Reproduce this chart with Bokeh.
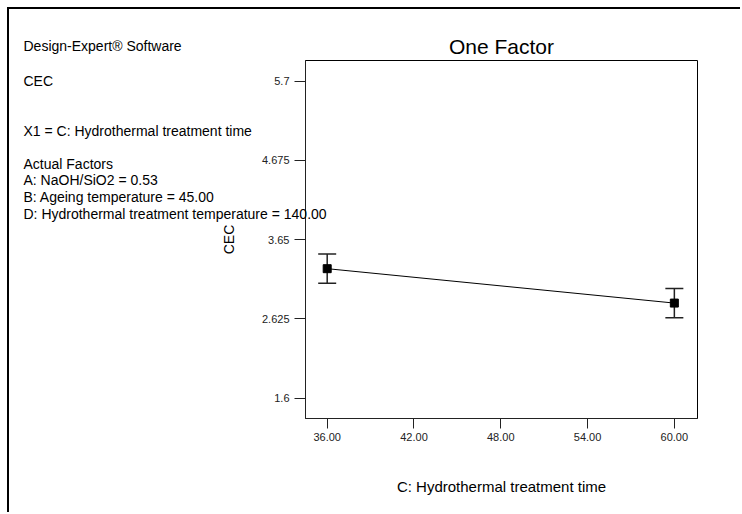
from bokeh.plotting import figure
from bokeh.models import ColumnDataSource, Whisker, TeeHead, FixedTicker, Div
from bokeh.core.properties import value
from bokeh.embed import file_html
from bokeh.resources import INLINE

# ---- data ----
time_h = [36.0, 60.0]
cec_mean = [3.275, 2.83]
cec_err = [0.19, 0.19]
x_ticks = [36, 42, 48, 54, 60]
x_tick_labels = ["36.00", "42.00", "48.00", "54.00", "60.00"]
y_ticks = [1.6, 2.625, 3.65, 4.675, 5.7]
y_tick_labels = ["1.6", "2.625", "3.65", "4.675", "5.7"]
info_lines = [
    "Design-Expert\u00ae Software",
    "CEC",
    "X1 = C: Hydrothermal treatment time",
    "Actual Factors",
    "A: NaOH/SiO2 = 0.53",
    "B: Ageing temperature = 45.00",
    "D: Hydrothermal treatment temperature = 140.00",
]

# ---- layout constants ----
FONT = "Liberation Sans"
INFO_TOP = 30          # page y of the info overlay
info_y = [15, 50, 100, 133, 149.5, 166, 183]   # line centres inside overlay
INFO_X = 23

src = ColumnDataSource(dict(
    x=time_h, y=cec_mean,
    lo=[m - e for m, e in zip(cec_mean, cec_err)],
    hi=[m + e for m, e in zip(cec_mean, cec_err)],
))

p = figure(frame_width=392, frame_height=358, x_range=(34.5, 61.6), y_range=(1.337, 5.968),
           output_backend="svg", toolbar_location=None,
           min_border_left=296, min_border_right=38, min_border_top=51, min_border_bottom=88,
           title="One Factor")
p.styles = {"margin-left": "9px", "margin-top": "9px"}

p.title.align = "center"
p.title.text_font = FONT
p.title.text_font_size = "21px"
p.title.text_font_style = "normal"
p.title.text_color = "black"
p.title.standoff = 5

p.outline_line_color = "black"
p.outline_line_width = 1
p.xgrid.visible = False
p.ygrid.visible = False
p.background_fill_color = "white"
p.border_fill_color = "white"

# axes
p.xaxis.ticker = FixedTicker(ticks=x_ticks)
p.xaxis.major_label_overrides = {t: l for t, l in zip(x_ticks, x_tick_labels)}
p.yaxis.ticker = FixedTicker(ticks=y_ticks)
p.yaxis.major_label_overrides = {t: l for t, l in zip(y_ticks, y_tick_labels)}
for ax in (p.xaxis, p.yaxis):
    ax.minor_tick_line_color = None
    ax.major_tick_in = 0
    ax.axis_line_color = "#222222"
    ax.major_tick_line_color = "#222222"
    ax.major_label_text_font = FONT
    ax.major_label_text_font_size = "11px"
    ax.major_label_text_color = "#222222"
    ax.axis_label_text_font = FONT
    ax.axis_label_text_font_style = "normal"
    ax.axis_label_text_color = "black"
p.yaxis.major_tick_out = 11
p.yaxis.major_label_standoff = 5
p.xaxis.major_tick_out = 10
p.xaxis.major_label_standoff = 4
p.xaxis.axis_label = "C: Hydrothermal treatment time"
p.xaxis.axis_label_text_font_size = "15px"
p.xaxis.axis_label_standoff = 34
p.yaxis.axis_label = "CEC"
p.yaxis.axis_label_text_font_size = "14px"
p.yaxis.axis_label_standoff = 22

# data
p.line("x", "y", source=src, line_color="black", line_width=1)
w = Whisker(base="x", lower="lo", upper="hi", source=src,
            line_color="#222222", line_width=1.5,
            upper_head=TeeHead(size=18, line_color="#222222", line_width=1.5),
            lower_head=TeeHead(size=18, line_color="#222222", line_width=1.5))
p.add_layout(w)
p.scatter("x", "y", source=src, marker="square", size=8, fill_color="black", line_color="black")

# outer frame (top and left edges only, the rest is cut off in the original)
frame_div = Div(text="", width=733, height=505,
                styles={"position": "absolute", "left": "2px", "top": "2px",
                        "border-left": "2px solid black", "border-top": "2px solid black",
                        "pointer-events": "none"})

# info overlay (transparent figure placed over the left part of the page)
q = figure(width=340, height=200, x_range=(0, 340), y_range=(200, 0),
           x_axis_type=None, y_axis_type=None,
           output_backend="svg", toolbar_location=None, min_border=0)
q.styles = {"position": "absolute", "left": "0px", "top": f"{INFO_TOP}px"}
q.outline_line_color = None
q.background_fill_color = None
q.border_fill_color = None
q.xgrid.visible = False
q.ygrid.visible = False
q.text(x=[INFO_X] * len(info_lines), y=info_y, text=info_lines,
       text_font=value(FONT), text_font_size="14px", text_color="black",
       text_baseline="middle", text_align="left")

open("out.html", "w").write(file_html([p, frame_div, q], INLINE))
